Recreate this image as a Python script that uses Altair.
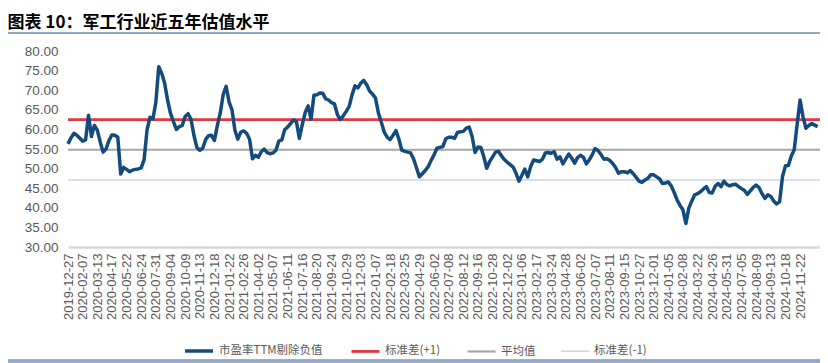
import altair as alt
import pandas as pd

# Weekly PE (TTM, excluding negatives)
values = [
    56.3, 57.8, 59.0, 58.5, 57.8, 57.0, 57.3, 63.6, 58.2, 61.0,
    59.8, 56.8, 54.2, 55.0, 57.2, 58.6, 58.5, 58.0, 48.6, 50.3,
    49.8, 49.2, 49.6, 49.8, 49.9, 50.2, 52.3, 59.9, 63.1, 62.7,
    66.9, 76.0, 74.3, 71.8, 67.5, 64.1, 62.0, 60.0, 60.7, 61.0,
    63.3, 64.0, 62.6, 58.5, 55.4, 54.7, 55.2, 57.4, 58.4, 58.5,
    57.2, 61.0, 64.2, 68.9, 71.0, 67.0, 65.0, 59.8, 57.5, 59.3,
    59.6, 59.0, 57.5, 52.5, 53.4, 52.9, 54.3, 55.0, 54.1, 53.8,
    54.0, 54.7, 57.0, 57.3, 59.9, 60.6, 61.5, 62.4, 62.0, 57.7,
    61.2, 64.3, 66.0, 62.6, 68.8, 68.8, 69.3, 69.2, 67.8, 67.5,
    66.8, 66.5, 63.8, 62.5, 63.5, 64.6, 65.8, 68.8, 71.1, 70.6,
    71.8, 72.5, 71.4, 69.8, 69.0, 68.0, 64.2, 61.8, 59.3, 58.0,
    57.4, 58.5, 59.7, 57.5, 54.7, 54.4, 54.2, 54.0, 52.5, 50.2,
    47.9, 48.7, 49.5, 50.5, 52.1, 53.5, 55.2, 55.4, 55.6, 57.6,
    58.0, 58.0, 57.7, 59.2, 59.4, 59.5, 60.3, 60.6, 58.2, 54.1,
    55.5, 55.4, 53.0, 50.1, 51.8, 53.0, 54.2, 54.4, 53.3, 52.3,
    51.6, 51.0, 50.4, 48.8, 46.8, 48.3, 49.9, 47.9, 50.5, 52.2,
    52.0, 51.8, 52.4, 54.0, 54.1, 53.9, 54.3, 52.4, 53.0, 51.2,
    52.5, 53.7, 52.7, 51.4, 52.8, 53.4, 52.9, 51.2, 52.2, 53.5,
    55.1, 54.6, 53.6, 52.4, 52.5, 52.1, 51.3, 50.3, 48.8, 49.2,
    49.2, 48.9, 49.5, 48.7, 47.8, 46.8, 46.5, 47.1, 47.5, 48.4,
    48.4, 47.9, 47.4, 46.2, 46.3, 46.6, 45.6, 43.9, 42.0, 40.6,
    39.5, 36.0, 39.9, 41.7, 43.3, 43.6, 44.1, 44.8, 45.4, 43.9,
    43.8, 45.5, 46.2, 45.4, 46.8, 45.9, 45.6, 45.9, 46.0, 45.4,
    44.9, 44.4, 43.4, 44.3, 45.2, 45.8, 45.1, 43.6, 42.4, 43.3,
    42.9, 41.7, 41.0, 41.5, 48.0, 50.7, 50.8, 53.2, 54.8, 61.3,
    67.5, 63.2, 60.3, 61.0, 61.5, 61.1, 60.7,
]

tick_labels = [
    "2019-12-27", "2020-02-07", "2020-03-13", "2020-04-17", "2020-05-22",
    "2020-06-24", "2020-07-31", "2020-09-04", "2020-10-09", "2020-11-13",
    "2020-12-18", "2021-01-22", "2021-02-26", "2021-04-02", "2021-05-07",
    "2021-06-11", "2021-07-16", "2021-08-20", "2021-09-24", "2021-10-29",
    "2021-12-03", "2022-01-07", "2022-02-18", "2022-03-25", "2022-04-29",
    "2022-06-02", "2022-07-08", "2022-08-12", "2022-09-16", "2022-10-28",
    "2022-12-02", "2023-01-06", "2023-02-17", "2023-03-24", "2023-04-28",
    "2023-06-02", "2023-07-07", "2023-08-11", "2023-09-15", "2023-10-27",
    "2023-12-01", "2024-01-05", "2024-02-08", "2024-03-22", "2024-04-26",
    "2024-05-31", "2024-07-05", "2024-08-09", "2024-09-13", "2024-10-18",
    "2024-11-22",
]
tick_step = 5

series_names = ["市盈率TTM剔除负值", "标准差(+1)", "平均值", "标准差(-1)"]
ref_values = [62.5, 54.8, 47.1]
colors = ["#134B7C", "#E0393E", "#A6A6A6", "#C6D5E8"]
widths = [3.5, 1.5, 1.5, 1.5]

df = pd.DataFrame({"idx": list(range(len(values))), "value": values,
                   "series": series_names[0]})
ref = pd.DataFrame({"series": series_names[1:], "value": ref_values})

color_scale = alt.Scale(domain=series_names, range=colors)
width_scale = alt.Scale(domain=series_names, range=widths)

label_expr = "[" + ",".join("'%s'" % s for s in tick_labels) + "][round(datum.value/%d)]" % tick_step

legend = alt.Legend(
    title=None, orient="none", legendX=115, legendY=284, direction="horizontal",
    symbolType="stroke", symbolSize=784, labelFont="Noto Sans CJK SC",
    labelFontSize=11.5, labelColor="#595959", columnPadding=22, labelOffset=4,
)

x_enc = alt.X(
    "idx:Q",
    scale=alt.Scale(domain=[0, 256.8], nice=False, zero=False),
    axis=alt.Axis(
        values=list(range(0, len(tick_labels) * tick_step, tick_step)),
        labelExpr=label_expr, labelAngle=-90, labelFont="Liberation Sans",
        labelFontSize=13, labelColor="#595959", labelPadding=6,
        ticks=False, grid=False, domainColor="#D9D9D9", domainWidth=2.5,
        title=None, labelOverlap=False, labelBound=False, labelFlush=False,
    ),
)
y_enc = alt.Y(
    "value:Q",
    scale=alt.Scale(domain=[30, 80], nice=False, zero=False),
    axis=alt.Axis(
        values=list(range(30, 81, 5)), format=".2f", labelFont="Liberation Sans",
        labelFontSize=13.5, labelColor="#595959", labelPadding=10, ticks=False,
        grid=False, domain=False, title=None,
    ),
)

rules = alt.Chart(ref).mark_rule().encode(
    y=y_enc,
    color=alt.Color("series:N", scale=color_scale, legend=legend),
    strokeWidth=alt.StrokeWidth("series:N", scale=width_scale, legend=legend),
)

line = alt.Chart(df).mark_line(strokeJoin="round").encode(
    x=x_enc,
    y=y_enc,
    color=alt.Color("series:N", scale=color_scale, legend=legend),
    strokeWidth=alt.StrokeWidth("series:N", scale=width_scale, legend=legend),
)

top_line = alt.Chart(ref).mark_rule(color="#8EA8C6", strokeWidth=2).encode(
    x=alt.value(-60), x2=alt.value(752), y=alt.value(-18)
)
bottom_line = alt.Chart(ref).mark_rule(color="#8EA8C6", strokeWidth=3).encode(
    x=alt.value(-60), x2=alt.value(752), y=alt.value(310)
)

chart = alt.layer(top_line, bottom_line, rules, line).properties(
    width=752, height=196,
    title=alt.TitleParams(
        "图表 10：军工行业近五年估值水平", anchor="start", font="Noto Sans CJK SC",
        fontSize=17, fontWeight="bold", color="#000000", dx=1, offset=0,
    ),
    autosize=alt.AutoSizeParams(type="none"),
    padding={"left": 60, "top": 43, "right": 0, "bottom": 116},
).configure_view(stroke=None).resolve_scale(color="shared", strokeWidth="shared")

chart.save("out.html", embed_options={"renderer": "svg", "actions": False})
